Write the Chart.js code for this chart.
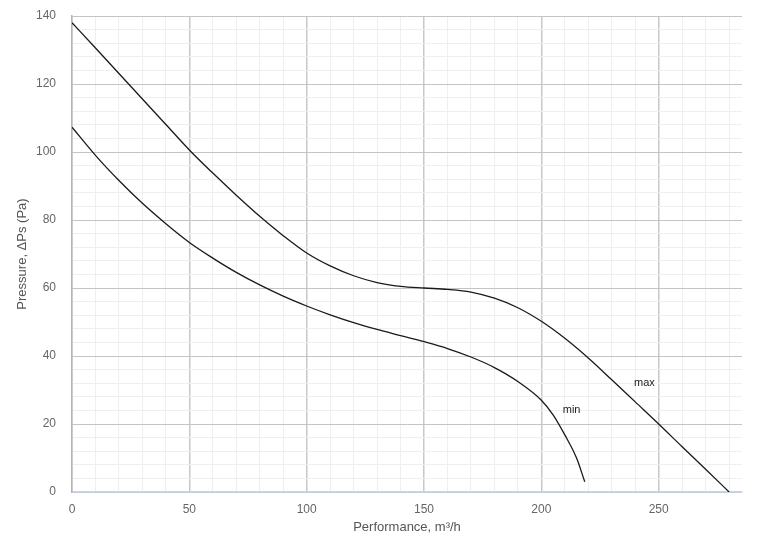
<!DOCTYPE html>
<html>
<head>
<meta charset="utf-8">
<script src="https://cdn.jsdelivr.net/npm/chart.js@4/dist/chart.umd.min.js"></script>
<style>
  html, body { margin: 0; padding: 0; background: #fff; }
  #wrap { width: 758px; height: 544px; position: relative; }
</style>
</head>
<body>
<div id="wrap"><canvas id="c" width="758" height="544"></canvas></div>
<script>
// Data
const maxFlow     = [0, 10, 20, 30, 40, 50, 60, 70, 80, 90, 100, 110, 120, 130, 140, 150, 160, 170, 180, 190, 200, 210, 220, 230, 240, 250, 260, 270, 280];
const maxPressure = [138, 130.6, 123.1, 115.6, 108.1, 100.6, 93.8, 87.3, 81.1, 75.4, 70.3, 66.5, 63.6, 61.6, 60.5, 60, 59.6, 58.8, 57, 54.2, 50.2, 45.2, 39.4, 33, 26.5, 20, 13.3, 6.7, 0];
const minFlow     = [0, 10, 20, 30, 40, 50, 60, 70, 80, 90, 100, 110, 120, 130, 140, 150, 160, 170, 180, 190, 200, 205, 210, 215, 218.5];
const minPressure = [107.3, 99, 91.6, 84.9, 78.9, 73.4, 68.8, 64.6, 60.9, 57.6, 54.7, 52.1, 49.8, 47.8, 46, 44.2, 42.2, 39.7, 36.6, 32.5, 27, 22.7, 16.8, 10, 3];
const xTicks = [0, 10, 20, 30, 40, 50, 60, 70, 80, 90, 100, 110, 120, 130, 140, 150, 160, 170, 180, 190, 200, 210, 220, 230, 240, 250, 260, 270, 280];
const yTicks = [0, 4, 8, 12, 16, 20, 24, 28, 32, 36, 40, 44, 48, 52, 56, 60, 64, 68, 72, 76, 80, 84, 88, 92, 96, 100, 104, 108, 112, 116, 120, 124, 128, 132, 136, 140];
const seriesNames = ['max', 'min'];
const curveLabels = [
  { text: 'max', x: 243.9, y: 32.2 },
  { text: 'min', x: 212.9, y: 24.0 }
];

const toXY = (xs, ys) => xs.map((v, i) => ({ x: v, y: ys[i] }));

const labelPlugin = {
  id: 'curveLabels',
  afterDatasetsDraw(chart) {
    const { ctx, scales } = chart;
    ctx.save();
    ctx.font = '11px "Liberation Sans", Arial, sans-serif';
    ctx.fillStyle = '#222';
    ctx.textAlign = 'center';
    ctx.textBaseline = 'middle';
    curveLabels.forEach(l => {
      ctx.fillText(l.text, scales.x.getPixelForValue(l.x), scales.y.getPixelForValue(l.y));
    });
    ctx.restore();
  }
};

const FONT = '"Liberation Sans", Arial, sans-serif';

new Chart(document.getElementById('c'), {
  type: 'line',
  data: {
    datasets: [
      {
        label: seriesNames[0],
        data: toXY(maxFlow, maxPressure),
        borderColor: '#1a1a1a',
        borderWidth: 1.3,
        pointRadius: 0,
        fill: false,
        cubicInterpolationMode: 'monotone'
      },
      {
        label: seriesNames[1],
        data: toXY(minFlow, minPressure),
        borderColor: '#1a1a1a',
        borderWidth: 1.3,
        pointRadius: 0,
        fill: false,
        cubicInterpolationMode: 'monotone'
      }
    ]
  },
  options: {
    responsive: false,
    animation: false,
    devicePixelRatio: 1,
    layout: { padding: { left: 0, top: 16, right: 16, bottom: 0 } },
    plugins: {
      legend: { display: false },
      tooltip: { enabled: false }
    },
    scales: {
      x: {
        type: 'linear',
        min: 0,
        max: 285.5,
        afterBuildTicks: (s) => { s.ticks = xTicks.map(v => ({ value: v })); },
        afterFit: (s) => { s.height = 52; s.paddingLeft = 0; s.paddingRight = 0; },
        ticks: {
          autoSkip: false,
          maxRotation: 0,
          padding: 10,
          color: '#666',
          font: { family: FONT, size: 12 },
          callback: (v) => (v % 50 === 0 ? String(v) : '')
        },
        grid: {
          drawTicks: false,
          color: (c) => (c.tick && c.tick.value % 50 === 0 ? '#c8c8c8' : '#efefef'),
          lineWidth: (c) => (c.tick && c.tick.value % 50 === 0 ? 1.5 : 1)
        },
        border: { color: '#c6d5ee', width: 1.5 },
        title: {
          display: true,
          text: 'Performance, m³/h',
          color: '#555',
          font: { family: FONT, size: 13 },
          padding: { top: 0, bottom: 9 }
        }
      },
      y: {
        type: 'linear',
        min: 0,
        max: 140,
        afterBuildTicks: (s) => { s.ticks = yTicks.map(v => ({ value: v })); },
        afterFit: (s) => { s.width = 72; s.paddingTop = 0; s.paddingBottom = 0; },
        ticks: {
          autoSkip: false,
          padding: 16,
          color: '#666',
          font: { family: FONT, size: 12 },
          callback: (v) => (v % 20 === 0 ? String(v) : '')
        },
        grid: {
          drawTicks: false,
          color: (c) => (c.tick && c.tick.value % 20 === 0 ? '#c4c4c4' : '#efefef'),
          lineWidth: 1
        },
        border: { color: '#b4b4b4', width: 1.5 },
        title: {
          display: true,
          text: 'Pressure, ΔPs (Pa)',
          color: '#555',
          font: { family: FONT, size: 13 },
          padding: { top: 15, bottom: 0 }
        }
      }
    }
  },
  plugins: [labelPlugin]
});
</script>
</body>
</html>
